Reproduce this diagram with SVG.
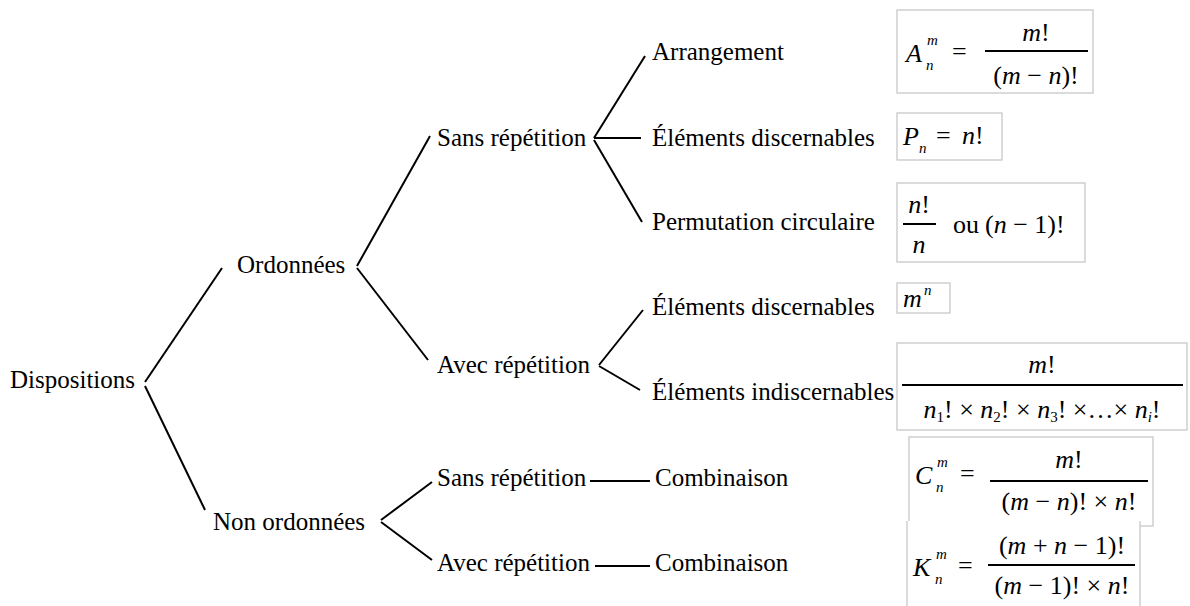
<svg xmlns="http://www.w3.org/2000/svg" width="1190" height="606" viewBox="0 0 1190 606">
  <style>
    .lbl { font-family: "Liberation Serif", "Times New Roman", serif; font-size: 25px; fill: #000; }
    .m { font-family: "Liberation Serif", "Times New Roman", serif; font-size: 26px; fill: #000; }
    .i { font-style: italic; }
    .s { font-size: 15px; }
    .box { fill: #fff; stroke: #c4c4c4; stroke-width: 1.2; }
    .bar { stroke: #000; stroke-width: 2; }
    .edge { stroke: #000; stroke-width: 2; fill: none; }
  </style>
  <rect width="1190" height="606" fill="#fff"/>

  <!-- tree branches -->
  <g id="connectors" class="edge">
    <path d="M145,382 L222,268"/>
    <path d="M145,386 L205,510"/>
    <path d="M357,266 L430,136"/>
    <path d="M357,268 L428,360"/>
    <path d="M594,138 L645,56"/>
    <path d="M594,138 L641,138"/>
    <path d="M594,140 L642,222"/>
    <path d="M599,365 L643,310"/>
    <path d="M599,366 L640,390"/>
    <path d="M381,520 L432,482"/>
    <path d="M381,522 L432,560"/>
    <path d="M590,481 L650,481"/>
    <path d="M595,566 L650,566"/>
  </g>

  <g id="n-dispositions"><text class="lbl" x="10" y="388">Dispositions</text></g>
  <g id="n-ordonnees"><text class="lbl" x="237" y="273">Ordonnées</text></g>
  <g id="n-ord-sans"><text class="lbl" x="437" y="146">Sans répétition</text></g>
  <g id="n-arrangement"><text class="lbl" x="652" y="60">Arrangement</text></g>
  <g id="n-perm-disc"><text class="lbl" x="652" y="146">Éléments discernables</text></g>
  <g id="n-perm-circ"><text class="lbl" x="652" y="230">Permutation circulaire</text></g>
  <g id="n-ord-avec"><text class="lbl" x="437" y="373">Avec répétition</text></g>
  <g id="n-rep-disc"><text class="lbl" x="652" y="315">Éléments discernables</text></g>
  <g id="n-rep-indisc"><text class="lbl" x="652" y="400">Éléments indiscernables</text></g>
  <g id="n-non-ordonnees"><text class="lbl" x="213" y="530">Non ordonnées</text></g>
  <g id="n-non-sans"><text class="lbl" x="437" y="486">Sans répétition</text></g>
  <g id="n-comb-sans"><text class="lbl" x="655" y="486">Combinaison</text></g>
  <g id="n-non-avec"><text class="lbl" x="437" y="571">Avec répétition</text></g>
  <g id="n-comb-avec"><text class="lbl" x="655" y="571">Combinaison</text></g>

  <!-- arrangement: A = m!/(m-n)! -->
  <g id="f-arrangement">
    <rect class="box" x="897" y="10" width="196" height="83"/>
    <text class="m i" x="906" y="62" font-size="29">A</text>
    <text class="m i s" x="927" y="45">m</text>
    <text class="m i s" x="926" y="70">n</text>
    <text class="m" x="952" y="60">=</text>
    <line class="bar" x1="985" y1="51" x2="1088" y2="51"/>
    <text class="m" x="1036" y="41" text-anchor="middle"><tspan class="i">m</tspan>!</text>
    <text class="m" x="1036" y="84" text-anchor="middle">(<tspan class="i">m</tspan> − <tspan class="i">n</tspan>)!</text>
  </g>

  <!-- permutation: P = n! -->
  <g id="f-permutation">
    <rect class="box" x="897" y="113" width="105" height="47"/>
    <text class="m i" x="903" y="145" font-size="28">P</text>
    <text class="m i s" x="919" y="153">n</text>
    <text class="m" x="936" y="144">=</text>
    <text class="m" x="962" y="144"><tspan class="i">n</tspan>!</text>
  </g>

  <!-- circular permutation: n!/n or (n-1)! -->
  <g id="f-circulaire">
    <rect class="box" x="897" y="183" width="188" height="79"/>
    <line class="bar" x1="903" y1="224" x2="936" y2="224"/>
    <text class="m" x="919" y="213" text-anchor="middle"><tspan class="i">n</tspan>!</text>
    <text class="m i" x="919" y="253" text-anchor="middle">n</text>
    <text class="m" x="953" y="233">ou</text>
    <text class="m" x="985" y="233">(<tspan class="i">n</tspan> − 1)!</text>
  </g>

  <!-- repetition, discernible: m^n -->
  <g id="f-puissance">
    <rect class="box" x="897" y="283" width="53" height="30"/>
    <text class="m i" x="903" y="307">m</text>
    <text class="m i s" x="924" y="295">n</text>
  </g>

  <!-- repetition, indiscernible: multinomial -->
  <g id="f-multinomial">
    <rect class="box" x="897" y="343" width="290" height="87"/>
    <text class="m" x="1042" y="373" text-anchor="middle"><tspan class="i">m</tspan>!</text>
    <line class="bar" x1="902" y1="385" x2="1183" y2="385"/>
    <text class="m" x="1042" y="418" text-anchor="middle"><tspan class="i">n</tspan><tspan class="s" dy="4">1</tspan><tspan dy="-4">! × </tspan><tspan class="i">n</tspan><tspan class="s" dy="4">2</tspan><tspan dy="-4">! × </tspan><tspan class="i">n</tspan><tspan class="s" dy="4">3</tspan><tspan dy="-4">! ×…× </tspan><tspan class="i">n</tspan><tspan class="s i" dy="4">i</tspan><tspan dy="-4">!</tspan></text>
  </g>

  <!-- combination without repetition -->
  <g id="f-combinaison">
    <rect class="box" x="909" y="437" width="244" height="89"/>
    <text class="m i" x="915" y="484" font-size="29">C</text>
    <text class="m i s" x="937" y="467">m</text>
    <text class="m i s" x="936" y="492">n</text>
    <text class="m" x="960" y="482">=</text>
    <line class="bar" x1="990" y1="481" x2="1148" y2="481"/>
    <text class="m" x="1069" y="468" text-anchor="middle"><tspan class="i">m</tspan>!</text>
    <text class="m" x="1069" y="510" text-anchor="middle">(<tspan class="i">m</tspan> − <tspan class="i">n</tspan>)! × <tspan class="i">n</tspan>!</text>
  </g>

  <!-- combination with repetition -->
  <g id="f-combinaison-rep">
    <rect x="907" y="521" width="233" height="86" fill="#fff"/>
    <path d="M907,606 V521 M1140,521 V606" stroke="#c4c4c4" stroke-width="1.2" fill="none"/>
    <text class="m i" x="913" y="576" font-size="29">K</text>
    <text class="m i s" x="936" y="559">m</text>
    <text class="m i s" x="935" y="584">n</text>
    <text class="m" x="958" y="574">=</text>
    <line class="bar" x1="988" y1="565" x2="1135" y2="565"/>
    <text class="m" x="1062" y="554" text-anchor="middle">(<tspan class="i">m</tspan> + <tspan class="i">n</tspan> − 1)!</text>
    <text class="m" x="1062" y="594" text-anchor="middle">(<tspan class="i">m</tspan> − 1)! × <tspan class="i">n</tspan>!</text>
  </g>
</svg>
